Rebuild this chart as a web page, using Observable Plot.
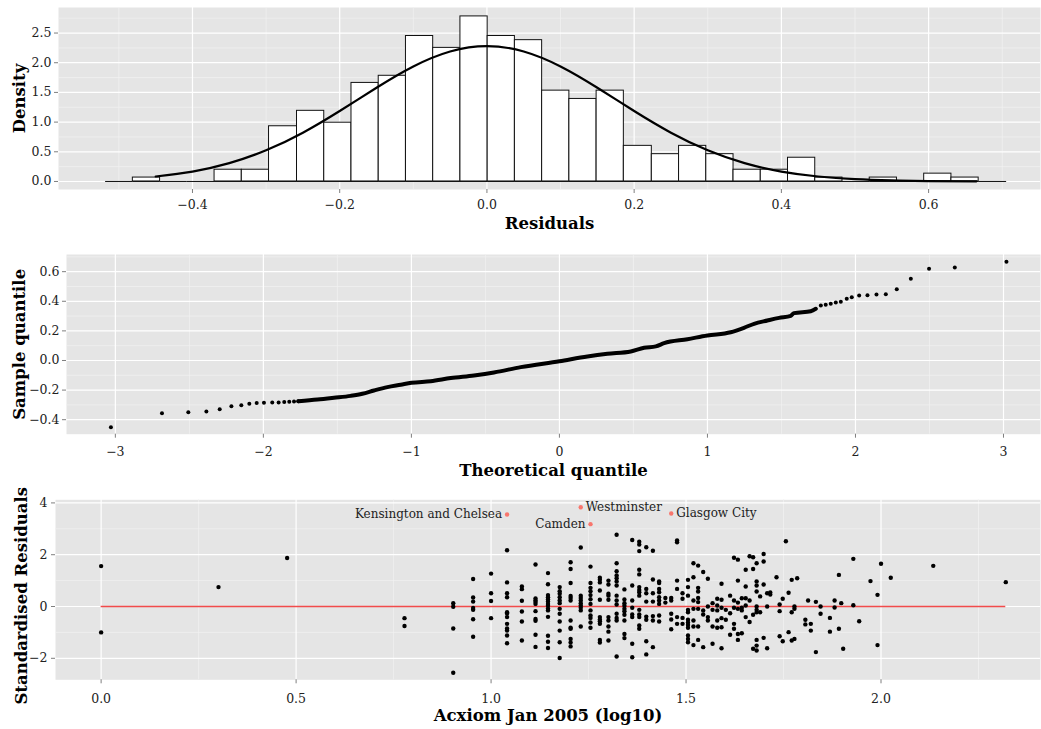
<!DOCTYPE html>
<html><head><meta charset="utf-8">
<script src="https://cdn.jsdelivr.net/npm/d3@7"></script>
<script src="https://cdn.jsdelivr.net/npm/@observablehq/plot@0.6"></script>
<style>
body{margin:0;background:#fff;}
#chart svg{display:block;overflow:visible;}
</style></head><body><div id="chart"></div>
<script>
// ---------- Panel 1: histogram of residuals ----------
const histEdges = [-0.518,-0.481,-0.444,-0.407,-0.370,-0.333,-0.296,-0.258,-0.221,-0.184,-0.147,-0.110,-0.073,-0.036,0.001,0.038,0.075,0.112,0.149,0.186,0.224,0.261,0.298,0.335,0.372,0.409,0.446,0.483,0.520,0.557,0.594,0.631,0.668,0.706];
const histDensity = [0,0.066,0,0,0.198,0.198,0.93,1.19,0.99,1.66,1.78,2.45,2.25,2.78,2.45,2.38,1.53,1.39,1.53,0.60,0.46,0.60,0.46,0.198,0.198,0.40,0.066,0,0.066,0,0.132,0.066,0];
const normX = [-0.45,-0.40,-0.35,-0.30,-0.25,-0.20,-0.15,-0.10,-0.05,0,0.05,0.10,0.15,0.20,0.25,0.30,0.35,0.40,0.45,0.50,0.55,0.60,0.665];
const normY = [0.084,0.167,0.309,0.525,0.822,1.187,1.579,1.937,2.189,2.28,2.189,1.937,1.579,1.187,0.822,0.525,0.309,0.167,0.084,0.039,0.017,0.006,0.002];
const histXTicks = [-0.4,-0.2,0,0.2,0.4,0.6];
const histXMinor = [-0.5,-0.3,-0.1,0.1,0.3,0.5,0.7];
const histYTicks = [0,0.5,1,1.5,2,2.5];
const histYMinor = [0.25,0.75,1.25,1.75,2.25,2.75];

// ---------- Panel 2: normal QQ plot ----------
const qqTailX = [-3.03,-2.685,-2.507,-2.385,-2.295,-2.216,-2.149,-2.095,-2.045,-1.996,-1.94,-1.897,-1.859,-1.825,-1.793,-1.764,
  1.766,1.799,1.833,1.867,1.901,1.941,1.975,2.025,2.081,2.142,2.205,2.279,2.374,2.497,2.671,3.020];
const qqTailY = [-0.451,-0.356,-0.349,-0.345,-0.329,-0.309,-0.302,-0.293,-0.288,-0.286,-0.284,-0.284,-0.281,-0.279,-0.277,-0.275,
  0.372,0.376,0.383,0.392,0.396,0.417,0.428,0.439,0.441,0.446,0.448,0.482,0.552,0.619,0.628,0.667];
const qqBandX = [-1.764,-1.635,-1.523,-1.410,-1.331,-1.253,-1.162,-1.072,-1.0,-0.870,-0.734,-0.577,-0.442,-0.261,0,0.189,0.324,0.482,0.572,0.651,0.707,0.865,1.0,1.157,1.247,1.315,1.405,1.484,1.563,1.585,1.698,1.732];
const qqBandY = [-0.275,-0.264,-0.252,-0.239,-0.225,-0.203,-0.180,-0.164,-0.151,-0.140,-0.119,-0.101,-0.081,-0.045,-0.005,0.027,0.045,0.061,0.086,0.095,0.117,0.144,0.169,0.191,0.221,0.248,0.270,0.288,0.302,0.320,0.333,0.349];
const qqXTicks = [-3,-2,-1,0,1,2,3];
const qqXMinor = [-2.5,-1.5,-0.5,0.5,1.5,2.5];
const qqYTicks = [-0.4,-0.2,0,0.2,0.4,0.6];
const qqYMinor = [-0.3,-0.1,0.1,0.3,0.5,0.7];

// ---------- Panel 3: standardised residuals vs Acxiom ----------
const acxiomX = [0,0.301,0.477,0.778,0.903,0.954,1.000,1.041,1.079,1.114,1.146,1.176,1.204,1.230,1.255,1.279,1.301,1.322,1.342,1.362,1.380,1.398,1.415,1.431,1.447,1.462,1.477,1.491,1.505,1.519,1.531,1.544,1.556,1.568,1.580,1.591,1.602,1.613,1.623,1.633,1.643,1.653,1.663,1.672,1.681,1.690,1.699,1.708,1.716,1.732,1.740,1.748,1.756,1.763,1.771,1.778,1.785,1.806,1.813,1.820,1.833,1.845,1.869,1.881,1.892,1.898,1.903,1.929,1.944,1.973,1.991,2.000,2.025,2.134,2.320];
const stdResid = [
  [1.56,-1.00],[0.75],[1.87],[-0.45,-0.75],[0.13,-0.01,-0.85,-2.56],
  [1.06,0.35,0.19,-0.06,-0.13,-0.49,-1.17],
  [1.27,0.51,0.21,-0.45],
  [2.17,0.93,0.51,0.36,-0.22,-0.27,-0.41,-0.67,-0.85,-0.93,-1.12,-1.42],
  [0.77,0.67,0.22,-0.19,-0.58,-1.31],
  [1.62,0.31,0.23,0.17,0.10,-0.18,-0.48,-0.55,-1.09,-1.56],
  [1.29,0.86,0.44,0.36,0.27,0.19,0.10,0.03,-0.08,-0.15,-0.40,-1.13,-1.36,-1.60],
  [0.75,0.59,0.49,0.36,0.23,0.13,-0.09,-0.28,-0.58,-0.93,-1.38,-1.99],
  [1.71,1.45,0.91,0.41,0.33,0.23,-0.54,-0.82,-0.86,-1.25,-1.39,-1.54],
  [2.28,0.42,0.33,0.23,0.13,0.04,-0.05,-0.15,-0.77],
  [1.54,0.91,0.72,0.59,0.44,0.28,0.10,-0.15,-0.35,-0.44,-0.62,-0.82],
  [1.11,1.03,0.93,0.62,0.26,-0.41,-0.50,-0.57,-0.67,-1.29,-1.39],
  [1.00,0.85,0.49,0.42,0.26,-0.41,-0.54,-0.77,-0.97,-1.31],
  [2.77,1.67,1.36,1.20,1.09,0.97,0.81,0.42,0.23,0.08,-0.28,-0.44,-0.54,-1.93],
  [0.66,0.27,0.13,0.03,-0.09,-0.18,-0.32,-0.54,-1.06,-1.22],
  [2.57,0.81,0.23,-0.05,-0.31,-0.41,-1.44,-1.96],
  [2.50,2.39,2.14,1.42,1.24,0.75,0.64,0.55,0.42,-0.13,-0.31,-0.41,-0.73,-0.86],
  [2.29,0.68,0.51,0.19,-0.39,-0.51,-1.34,-1.85],
  [2.15,1.04,0.51,0.19,-0.37,-0.54,-1.57],
  [0.97,0.91,0.68,0.55,0.36,0.23,0.10,-0.35,-0.58],
  [0.33,0.15],
  [0.33,0.23,-0.28,-0.50,-0.88],
  [2.55,2.48,1.00,0.68,-0.41,-0.67],
  [0.51,0.30,-0.44,-0.67],
  [1.03,0.75,0.42,-0.13,-0.22,-0.51,-0.62,-0.71,-0.82,-1.12,-1.25,-1.38],
  [1.67,1.13,0.23,-0.09,-0.54,-0.77,-1.49],
  [1.58,0.72,0.58,0.33,0.17,-0.09,-0.77,-1.29],
  [1.33,-0.15,-0.31,-1.57],
  [1.07,0.00,-0.41,-0.54],
  [0.13,-0.13,-0.77,-1.44],
  [0.30,0.04,-0.15,-0.54,-0.82],
  [0.88,0.26,-0.05,-0.45,-0.80,-1.61],
  [-0.13,-0.51],
  [0.42,-0.26,-1.09],
  [1.88,0.23,-0.05,-0.67,-0.86],
  [1.81,1.00,0.15,-0.09,-1.06,-1.29],
  [0.32,-0.05,-0.15,-1.03],
  [1.42,0.77,0.32,0.04,-0.41],
  [1.94,0.23,-0.60],
  [1.90,1.45,-0.32,-1.63],
  [1.67,0.97,0.81,0.58,0.00,-0.13,-0.22,-1.29,-1.51,-1.70],
  [0.39,-0.22],
  [2.03,1.74,0.85,-1.21],
  [0.51,0.00,-1.61],
  [0.54,0.46],
  [1.13],
  [0.08,-0.18,-1.15],
  [0.30,-1.34],
  [2.52],
  [0.53,-0.99],
  [1.03,-0.22,-1.31],
  [0.00,-0.09,-1.25],
  [1.09],
  [-0.51,-0.69],
  [0.23],
  [-0.67,-0.93],
  [0.18,-1.76],
  [0.00,-0.28],
  [-0.44,-0.97],
  [0.23,-0.04],
  [1.22,-0.86],
  [0.13],
  [-1.63],
  [1.84,0.05],
  [-0.57],
  [0.98],
  [0.45,-1.49],
  [1.65],
  [1.11],
  [1.57],
  [0.94]
];
const outlierNames = ["Kensington and Chelsea","Westminster","Camden","Glasgow City"];
const outlierX = [1.041,1.230,1.255,1.462];
const outlierY = [3.55,3.83,3.18,3.59];
const resXTicks = [0,0.5,1,1.5,2];
const resXMinor = [0.25,0.75,1.25,1.75,2.25];
const resYTicks = [-2,0,2,4];
const resYMinor = [-1,1,3];

// ---------- shared styling ----------
const W = 1041;
const FONT = "DejaVu Serif";
const panelBg = "#E5E5E5";
const minorCol = "#F2F2F2";
const fmt1 = d3.format(".1f");
const fmtInt = d3.format("d");

function background(xMajor, xMinor, yMajor, yMinor) {
  return [
    Plot.frame({fill: panelBg, stroke: "none"}),
    Plot.ruleX(xMinor, {stroke: minorCol, strokeWidth: 0.7}),
    Plot.ruleY(yMinor, {stroke: minorCol, strokeWidth: 0.7}),
    Plot.ruleX(xMajor, {stroke: "white", strokeWidth: 1.2}),
    Plot.ruleY(yMajor, {stroke: "white", strokeWidth: 1.2})
  ];
}
function axes(o) {
  return [
    Plot.axisX(o.xTicks, {tickFormat: o.xFmt, tickSize: 4, tickPadding: o.xPad, stroke: "#7f7f7f", fill: "#222", fontSize: 12.5, label: null}),
    Plot.axisY(o.yTicks, {tickFormat: o.yFmt, tickSize: 4, tickPadding: o.yPad, stroke: "#7f7f7f", fill: "#222", fontSize: 12.5, label: null}),
    Plot.text([o.xTitle], {frameAnchor: "bottom", textAnchor: "middle", dy: o.xTitleDy, fontWeight: "bold", fontSize: 16.5, fill: "black"}),
    Plot.text([o.yTitle], {frameAnchor: "left", textAnchor: "middle", rotate: -90, dx: o.yTitleDx, dy: o.yTitleDy || 0, fontWeight: "bold", fontSize: 16.5, fill: "black"})
  ];
}

// Panel 1
const bins = histDensity.map((d, i) => ({x1: histEdges[i], x2: histEdges[i + 1], d}));
const normPts = normX.map((x, i) => ({x, y: normY[i]}));
const p1 = Plot.plot({
  width: W, height: 240,
  marginLeft: 58, marginRight: 1, marginTop: 7, marginBottom: 51,
  x: {domain: [-0.582, 0.752], axis: null},
  y: {domain: [-0.135, 2.93], axis: null},
  style: {fontFamily: FONT, background: "white"},
  marks: [
    ...background(histXTicks, histXMinor, histYTicks, histYMinor),
    Plot.rect(bins, {x1: "x1", x2: "x2", y1: 0, y2: "d", fill: "white", stroke: "#111", strokeWidth: 1}),
    Plot.ruleY(bins, {y: 0, x1: "x1", x2: "x2", stroke: "#111", strokeWidth: 1}),
    Plot.line(normPts, {x: "x", y: "y", curve: "natural", stroke: "black", strokeWidth: 2.2}),
    ...axes({xTicks: histXTicks, yTicks: histYTicks, xFmt: fmt1, yFmt: fmt1, xPad: 7, yPad: 3,
      xTitle: "Residuals", yTitle: "Density", xTitleDy: 39, yTitleDx: -39})
  ]
});

// Panel 2
const qqDots = qqTailX.map((x, i) => ({x, y: qqTailY[i]}));
const qqBand = qqBandX.map((x, i) => ({x, y: qqBandY[i]}));
const p2 = Plot.plot({
  width: W, height: 250,
  marginLeft: 66, marginRight: 1, marginTop: 14, marginBottom: 56.3,
  x: {domain: [-3.33, 3.25], axis: null},
  y: {domain: [-0.498, 0.716], axis: null},
  style: {fontFamily: FONT, background: "white"},
  marks: [
    ...background(qqXTicks, qqXMinor, qqYTicks, qqYMinor),
    Plot.line(qqBand, {x: "x", y: "y", stroke: "black", strokeWidth: 4, strokeLinecap: "round", curve: "monotone-x"}),
    Plot.dot(qqDots, {x: "x", y: "y", r: 2, fill: "black", stroke: "none"}),
    ...axes({xTicks: qqXTicks, yTicks: qqYTicks, xFmt: fmtInt, yFmt: fmt1, xPad: 9, yPad: 3,
      xTitle: "Theoretical quantile", yTitle: "Sample quantile", xTitleDy: 42, yTitleDx: -47})
  ]
});

// Panel 3
const resPts = acxiomX.flatMap((x, i) => stdResid[i].map(y => ({x, y})));
const outliers = outlierNames.map((name, i) => ({name, x: outlierX[i], y: outlierY[i]}));
const leftSide = new Set(["Kensington and Chelsea", "Camden"]);
const allX = resPts.map(d => d.x).concat(outlierX);
const p3 = Plot.plot({
  width: W, height: 239,
  marginLeft: 55, marginRight: 1, marginTop: 9.3, marginBottom: 49.7,
  x: {domain: [-0.117, 2.409], axis: null},
  y: {domain: [-2.83, 4.12], axis: null},
  style: {fontFamily: FONT, background: "white"},
  marks: [
    ...background(resXTicks, resXMinor, resYTicks, resYMinor),
    Plot.ruleY([0], {x1: d3.min(allX), x2: d3.max(allX), stroke: "#F24B4B", strokeWidth: 1.5}),
    Plot.dot(resPts, {x: "x", y: "y", r: 2.2, fill: "black", stroke: "none"}),
    Plot.dot(outliers, {x: "x", y: "y", r: 2.2, fill: "#F8766D", stroke: "none"}),
    Plot.text(outliers.filter(d => leftSide.has(d.name)), {x: "x", y: "y", text: "name", textAnchor: "end", dx: -5, fontSize: 12, fill: "#222"}),
    Plot.text(outliers.filter(d => !leftSide.has(d.name)), {x: "x", y: "y", text: "name", textAnchor: "start", dx: 5, fontSize: 12, fill: "#222"}),
    ...axes({xTicks: resXTicks, yTicks: resYTicks, xFmt: fmt1, yFmt: fmtInt, xPad: 10, yPad: 4,
      xTitle: "Acxiom Jan 2005 (log10)", yTitle: "Standardised Residuals", xTitleDy: 41, yTitleDx: -34, yTitleDy: 6})
  ]
});

const root = document.getElementById("chart");
root.append(p1, p2, p3);
</script></body></html>
